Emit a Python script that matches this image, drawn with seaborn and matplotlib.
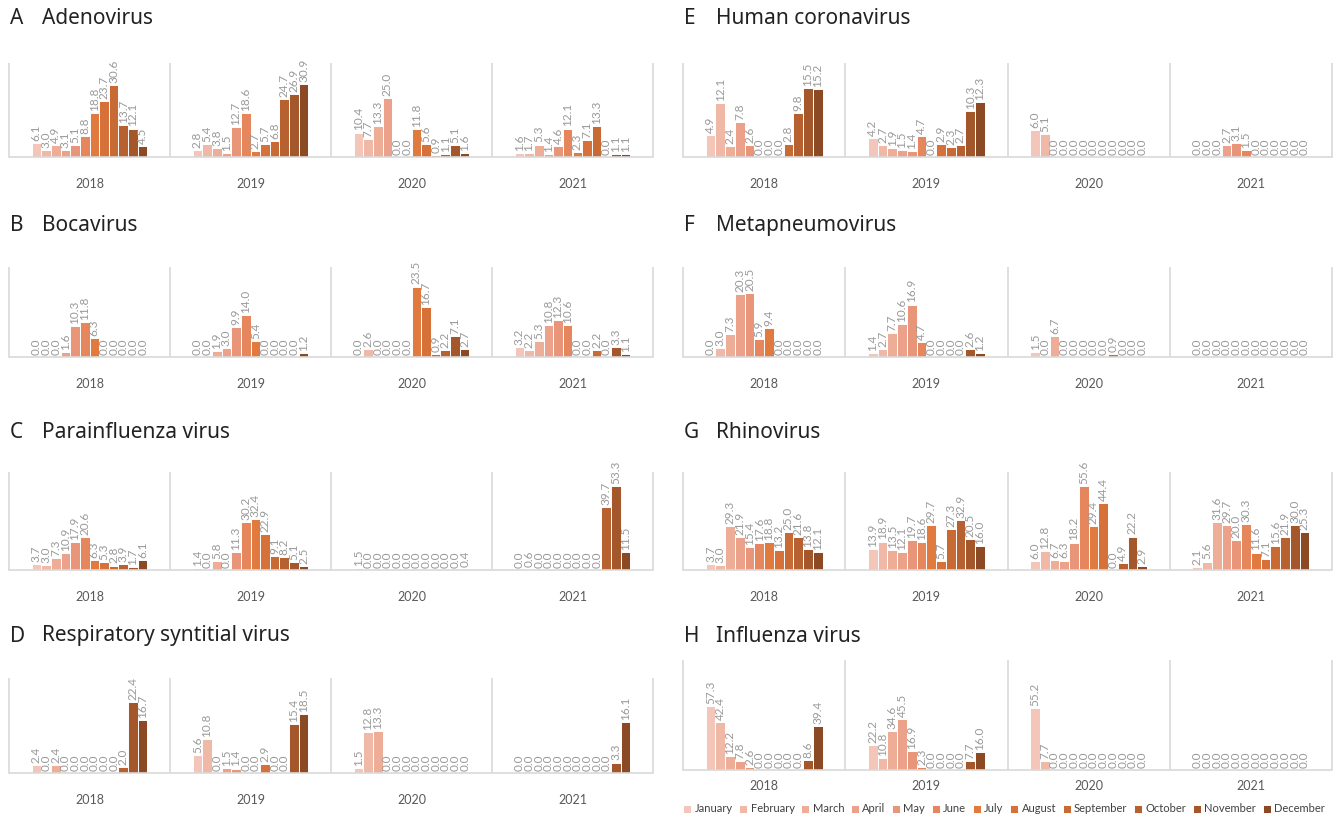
import numpy as np
import pandas as pd
import matplotlib.pyplot as plt
import seaborn as sns

# Monthly detection rates (%) by virus, one row per year 2018-2021
months = ["January", "February", "March", "April", "May", "June", "July",
          "August", "September", "October", "November", "December"]
years = ["2018", "2019", "2020", "2021"]
month_colors = ["#f3c6b9", "#f0b9a7", "#edad97", "#eba18a", "#e9957a", "#e6865d",
                "#e07a3e", "#d57139", "#c86a34", "#b6612f", "#a3572b", "#8c4a24"]

adenovirus = [
    [6.1, 3.0, 4.9, 3.1, 5.1, 8.8, 18.8, 23.7, 30.6, 13.7, 12.1, 4.5],
    [2.8, 5.4, 3.8, 1.5, 12.7, 18.6, 2.7, 5.7, 6.8, 24.7, 26.9, 30.9],
    [10.4, 7.7, 13.3, 25.0, 0.0, 0.0, 11.8, 5.6, 0.9, 1.1, 5.1, 1.6],
    [1.6, 1.7, 5.3, 1.4, 4.6, 12.1, 2.3, 7.1, 13.3, 0.0, 1.1, 1.1],
]
bocavirus = [
    [0.0, 0.0, 0.0, 1.6, 10.3, 11.8, 6.3, 0.0, 0.0, 0.0, 0.0, 0.0],
    [0.0, 0.0, 1.9, 3.0, 9.9, 14.0, 5.4, 0.0, 0.0, 0.0, 0.0, 1.2],
    [0.0, 2.6, 0.0, 0.0, 0.0, 0.0, 23.5, 16.7, 0.9, 2.2, 7.1, 2.7],
    [3.2, 2.2, 5.3, 10.8, 12.3, 10.6, 0.0, 0.0, 2.2, 0.0, 3.3, 1.1],
]
parainfluenza = [
    [3.7, 3.0, 7.3, 10.9, 17.9, 20.6, 6.3, 5.3, 2.8, 3.9, 1.7, 6.1],
    [1.4, 0.0, 5.8, 0.0, 11.3, 30.2, 32.4, 22.9, 9.1, 8.2, 5.1, 2.5],
    [1.5, 0.0, 0.0, 0.0, 0.0, 0.0, 0.0, 0.0, 0.0, 0.0, 0.0, 0.4],
    [0.0, 0.6, 0.0, 0.0, 0.0, 0.0, 0.0, 0.0, 0.0, 39.7, 53.3, 11.5],
]
rsv = [
    [2.4, 0.0, 2.4, 0.0, 0.0, 0.0, 0.0, 0.0, 0.0, 2.0, 22.4, 16.7],
    [5.6, 10.8, 0.0, 1.5, 1.4, 0.0, 0.0, 2.9, 0.0, 0.0, 15.4, 18.5],
    [1.5, 12.8, 13.3, 0.0, 0.0, 0.0, 0.0, 0.0, 0.0, 0.0, 0.0, 0.0],
    [0.0, 0.0, 0.0, 0.0, 0.0, 0.0, 0.0, 0.0, 0.0, 0.0, 3.3, 16.1],
]
coronavirus = [
    [4.9, 12.1, 2.4, 7.8, 2.6, 0.0, 0.0, 0.0, 2.8, 9.8, 15.5, 15.2],
    [4.2, 2.7, 1.9, 1.5, 1.4, 4.7, 0.0, 2.9, 2.3, 2.7, 10.3, 12.3],
    [6.0, 5.1, 0.0, 0.0, 0.0, 0.0, 0.0, 0.0, 0.0, 0.0, 0.0, 0.0],
    [0.0, 0.0, 0.0, 2.7, 3.1, 1.5, 0.0, 0.0, 0.0, 0.0, 0.0, 0.0],
]
metapneumovirus = [
    [0.0, 3.0, 7.3, 20.3, 20.5, 5.9, 9.4, 0.0, 0.0, 0.0, 0.0, 0.0],
    [1.4, 2.7, 7.7, 10.6, 16.9, 4.7, 0.0, 0.0, 0.0, 0.0, 2.6, 1.2],
    [1.5, 0.0, 6.7, 0.0, 0.0, 0.0, 0.0, 0.0, 0.9, 0.0, 0.0, 0.0],
    [0.0, 0.0, 0.0, 0.0, 0.0, 0.0, 0.0, 0.0, 0.0, 0.0, 0.0, 0.0],
]
rhinovirus = [
    [3.7, 3.0, 29.3, 21.9, 15.4, 17.6, 18.8, 13.2, 25.0, 21.6, 13.8, 12.1],
    [13.9, 18.9, 13.5, 12.1, 19.7, 18.6, 29.7, 5.7, 27.3, 32.9, 20.5, 16.0],
    [6.0, 12.8, 6.7, 6.3, 18.2, 55.6, 29.4, 44.4, 0.0, 4.9, 22.2, 2.9],
    [2.1, 5.6, 31.6, 29.7, 20.0, 30.3, 11.6, 7.1, 15.6, 21.9, 30.0, 25.3],
]
influenza = [
    [57.3, 42.4, 12.2, 7.8, 2.6, 0.0, 0.0, 0.0, 0.0, 0.0, 8.6, 39.4],
    [22.2, 10.8, 34.6, 45.5, 16.9, 2.3, 0.0, 0.0, 0.0, 0.0, 7.7, 16.0],
    [55.2, 7.7, 0.0, 0.0, 0.0, 0.0, 0.0, 0.0, 0.0, 0.0, 0.0, 0.0],
    [0.0, 0.0, 0.0, 0.0, 0.0, 0.0, 0.0, 0.0, 0.0, 0.0, 0.0, 0.0],
]

W, H = 1339, 818

# letter, name, data, axes box in pixels (left, top, right, bottom), title y, y max, year label pad
panels = [
    ("A", "Adenovirus", adenovirus, (9, 63, 653, 157), 18, 40, 15),
    ("B", "Bocavirus", bocavirus, (9, 267, 653, 357), 225, 30, 15),
    ("C", "Parainfluenza virus", parainfluenza, (9, 472, 653, 570), 432, 62, 15),
    ("D", "Respiratory syntitial virus", rsv, (9, 678, 653, 773), 636, 30, 15),
    ("E", "Human coronavirus", coronavirus, (683, 63, 1332, 157), 18, 21, 15),
    ("F", "Metapneumovirus", metapneumovirus, (683, 267, 1332, 357), 225, 29, 15),
    ("G", "Rhinovirus", rhinovirus, (683, 472, 1332, 570), 432, 65, 15),
    ("H", "Influenza virus", influenza, (683, 660, 1332, 770), 636, 98, 7),
]

sns.set_style("white")
plt.rcParams["font.family"] = ["Lato", "DejaVu Sans"]

fig = plt.figure(figsize=(W / 100, H / 100), dpi=100)

handles, labels = None, None
for letter, name, values, box, ty, ymax, pad in panels:
    l, t, r, b = box
    ax = fig.add_axes([l / W, 1 - b / H, (r - l) / W, (b - t) / H])

    df = pd.DataFrame({
        "year": np.repeat(years, 12),
        "month": months * 4,
        "value": np.ravel(values),
    })
    sns.barplot(data=df, x="year", y="value", hue="month", hue_order=months,
                order=years, palette=month_colors, saturation=1, width=0.72,
                edgecolor="white", linewidth=0.7, errorbar=None, ax=ax,
                legend=(letter == "H"))

    for c in ax.containers:
        ax.bar_label(c, fmt="%.1f", rotation=90, padding=1.5,
                     fontsize=8.5, color="#999999")

    ax.set_xlim(-0.5, 3.5)
    ax.set_ylim(0, ymax)
    ax.vlines([-0.5, 0.5, 1.5, 2.5, 3.5], 0, ymax, color="#d9d9d9",
              lw=1.2, clip_on=False)
    sns.despine(ax=ax, left=True, top=True, right=True)
    ax.spines["bottom"].set_color("#d9d9d9")
    ax.spines["bottom"].set_linewidth(1.2)
    ax.set_yticks([])
    ax.set_xlabel("")
    ax.set_ylabel("")
    ax.tick_params(axis="x", length=0, pad=pad, labelsize=9, labelcolor="#595959")

    if letter == "H":
        handles, labels = ax.get_legend_handles_labels()
        ax.get_legend().remove()

    fig.text((l + 1) / W, 1 - ty / H, letter, fontsize=15, fontweight="bold",
             va="center", family="Noto Sans", color="#222222")
    fig.text((l + 33) / W, 1 - ty / H, name, fontsize=15, va="center",
             family="Noto Sans", color="#222222")

fig.legend(handles, labels, loc="center", bbox_to_anchor=(1004 / W, 1 - 809 / H),
           ncol=12, frameon=False, fontsize=8, handlelength=0.7,
           handleheight=0.7, handletextpad=0.3, columnspacing=0.62,
           labelcolor="#404040")

fig.savefig("out.png", dpi=100)
